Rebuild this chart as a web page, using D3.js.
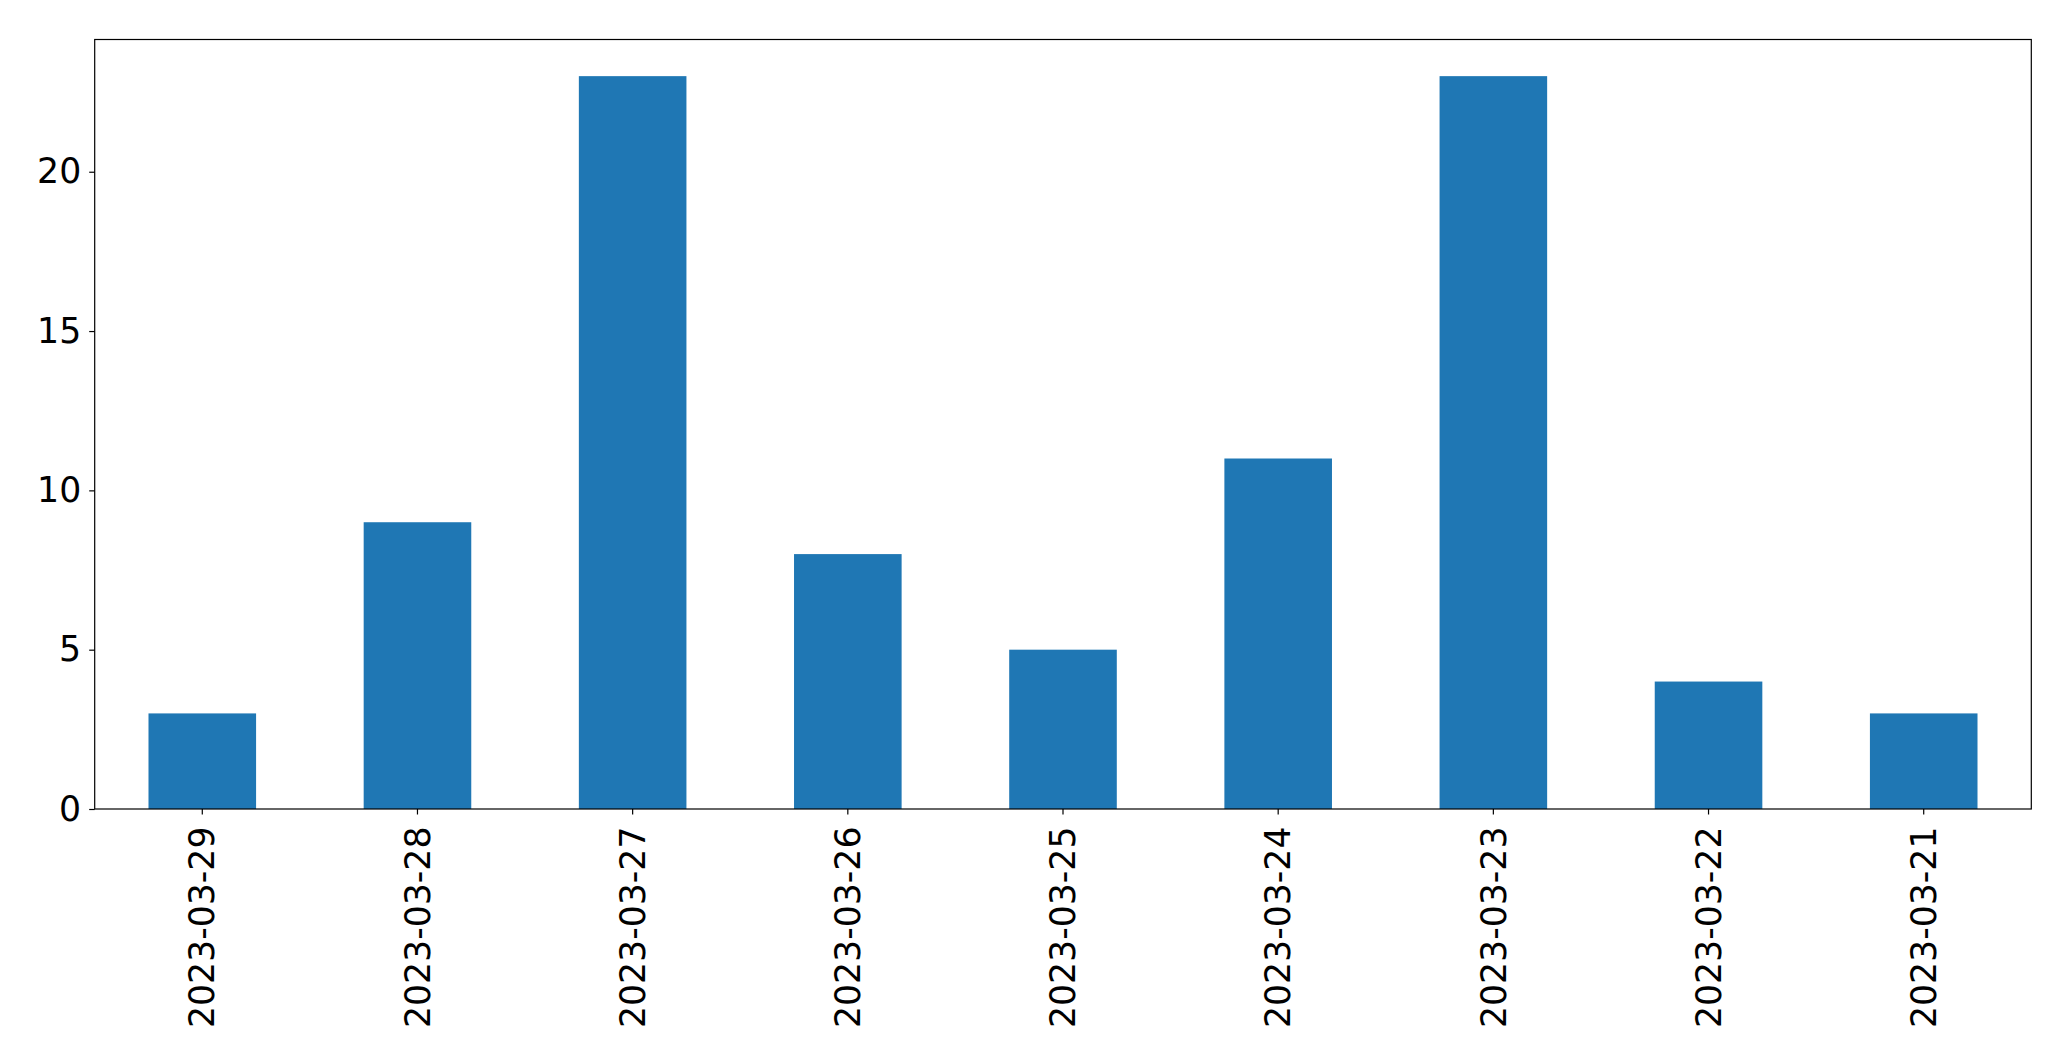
<!DOCTYPE html>
<html><head><meta charset="utf-8">
<script src="https://cdn.jsdelivr.net/npm/d3@7"></script>
<style>body{margin:0;background:#fff;} svg{display:block;}</style>
</head><body>
<script>
const categories = ["2023-03-29","2023-03-28","2023-03-27","2023-03-26","2023-03-25","2023-03-24","2023-03-23","2023-03-22","2023-03-21"];
const values = [3, 9, 23, 8, 5, 11, 23, 4, 3];
const yTicks = [0, 5, 10, 15, 20];

(function () {
const W = 2071, H = 1061;
const mLeft = 94.7, mRight = 2031.3, mTop = 39.5, mBottom = 809;
const svg = d3.select("body").append("svg").attr("width", W).attr("height", H);

const x = d3.scaleBand().domain(categories).range([mLeft, mRight]).paddingInner(0.5).paddingOuter(0.25);
const y = d3.scaleLinear().domain([0, d3.max(values) * 1.05]).range([mBottom, mTop]);

svg.append("g").selectAll("rect").data(values).join("rect")
  .attr("x", (d, i) => x(categories[i]))
  .attr("width", x.bandwidth())
  .attr("y", d => y(d))
  .attr("height", d => y(0) - y(d))
  .attr("fill", "#1f77b4");

const font = "'DejaVu Sans', sans-serif";
const fs = "34.7px";

const yAxis = svg.append("g").attr("transform", `translate(${mLeft},0)`)
  .call(d3.axisLeft(y).tickValues(yTicks).tickSize(5.5).tickPadding(8));
yAxis.select(".domain").remove();
yAxis.selectAll("line").attr("stroke", "#000").attr("stroke-width", 1.2);
yAxis.selectAll("text").attr("font-family", font).attr("font-size", fs).attr("fill", "#000");

const xAxis = svg.append("g").attr("transform", `translate(0,${mBottom})`)
  .call(d3.axisBottom(x).tickSize(5.5).tickPadding(0));
xAxis.select(".domain").remove();
xAxis.selectAll("line").attr("stroke", "#000").attr("stroke-width", 1.2);
xAxis.selectAll("text")
  .attr("font-family", font).attr("font-size", fs).attr("fill", "#000")
  .attr("transform", "rotate(-90)")
  .attr("x", -17.5).attr("y", 0).attr("dy", "0.35em")
  .attr("text-anchor", "end");

svg.append("rect").attr("x", mLeft).attr("y", mTop).attr("width", mRight - mLeft).attr("height", mBottom - mTop)
  .attr("fill", "none").attr("stroke", "#000").attr("stroke-width", 1.2);
})();
</script>
</body></html>
